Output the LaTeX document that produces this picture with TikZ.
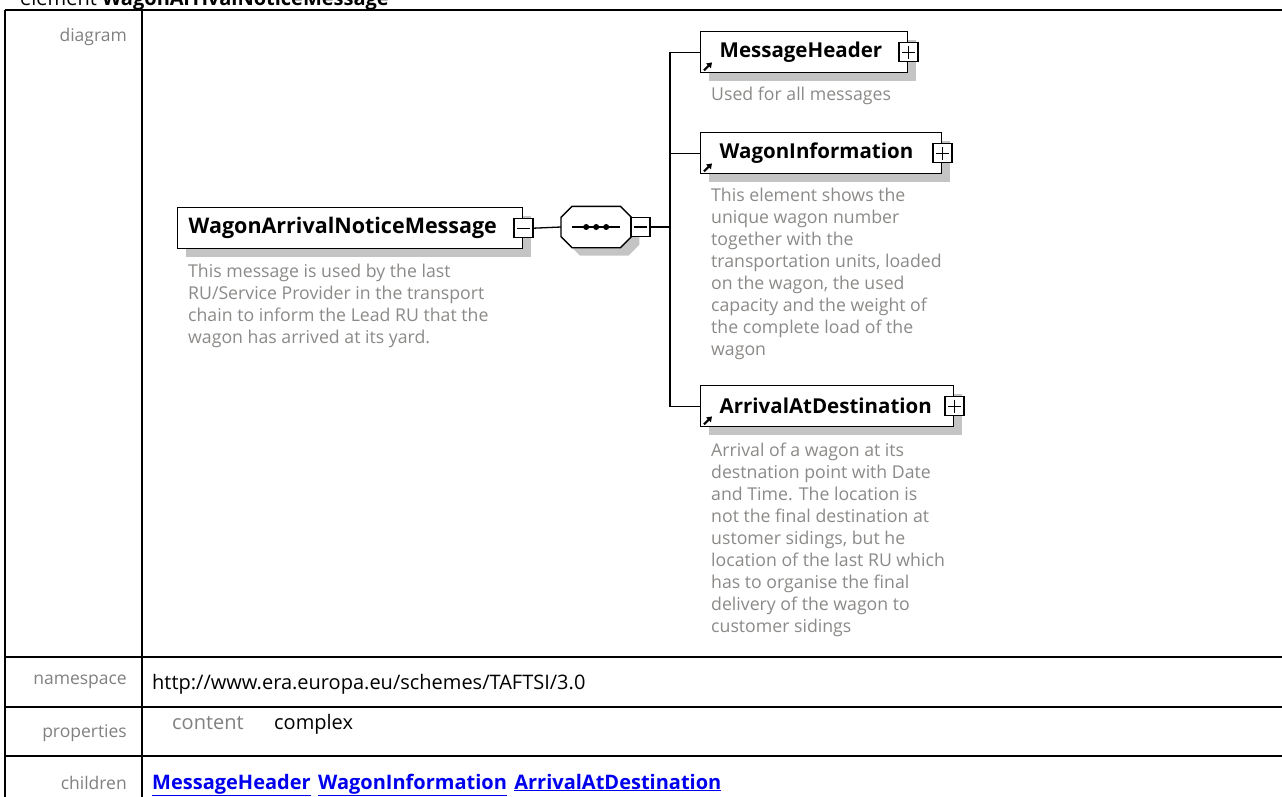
\documentclass[tikz,border=0pt]{standalone}
\usepackage{fontspec}
\setmainfont{Open Sans}
\usetikzlibrary{arrows.meta}
\definecolor{lblgray}{RGB}{128,128,128}
\definecolor{descgray}{RGB}{140,138,136}
\definecolor{shadowgray}{RGB}{196,196,196}
\definecolor{linkblue}{RGB}{0,0,238}
\begin{document}
\begin{tikzpicture}[x=1pt,y=-1pt,
  tline/.style={line width=2pt,black},
  lbl/.style={anchor=east,inner sep=0pt,text=lblgray,font=\fontsize{17.5}{20}\selectfont},
  val/.style={anchor=base west,inner sep=0pt,text=black,font=\fontsize{20}{24}\selectfont},
  lnk/.style={anchor=base west,inner sep=0pt,text=linkblue,font=\fontsize{20}{24}\selectfont\bfseries},
  elem/.style={draw=black,line width=1.4pt,fill=white,anchor=north west,minimum height=41pt,
    inner ysep=0pt,align=left,font=\fontsize{20.5}{24}\selectfont\bfseries,
    preaction={fill=shadowgray,transform canvas={xshift=8pt,yshift=-8pt}}},
  desc/.style={anchor=north west,inner sep=0pt,align=left,text=descgray,font=\fontsize{17.7}{22}\selectfont},
  minusbox/.style={draw,line width=1.2pt,fill=white,minimum size=19pt,inner sep=0pt,
    path picture={\draw[line width=1.2pt] ([xshift=3pt]path picture bounding box.west) -- ([xshift=-3pt]path picture bounding box.east);}},
  plusbox/.style={minusbox,
    path picture={\draw[line width=1.2pt] ([xshift=3pt]path picture bounding box.west) -- ([xshift=-3pt]path picture bounding box.east);
      \draw[line width=1.2pt] ([yshift=-3pt]path picture bounding box.north) -- ([yshift=3pt]path picture bounding box.south);}},
  conn/.style={line width=1.3pt,black},
  linkarrow/.style={line width=2.2pt,-{Triangle[length=5pt,width=6.5pt]}}
]
\useasboundingbox (0,0) rectangle (1282,796);
% title (cut at top)
\node[anchor=base west,inner sep=0pt,font=\fontsize{20}{24}\selectfont] (title) at (20,5) {element \textbf{WagonArrivalNoticeMessage}};
% table
\draw[tline] (5,10) -- (1290,10);
\draw[tline] (5,10) -- (5,800);
\draw[tline] (142,10) -- (142,800);
\draw[tline] (5,657) -- (1290,657);
\draw[tline] (5,707) -- (1290,707);
\draw[tline] (5,756) -- (1290,756);
\node[lbl] (ldiag) at (127,37) {diagram};
\node[lbl] (lns) at (127,682) {namespace};
\node[lbl] (lprop) at (127,733) {properties};
\node[lbl] (lchild) at (127,783) {children};
\node[val] (ns) at (152,689) {http://www.era.europa.eu/schemes/TAFTSI/3.0};
\node[val,text=lblgray] (pc) at (172,729) {content};
\node[val] (pv) at (274,729) {complex};
\node[lnk] (c1) at (152,789) {\underline{MessageHeader}};
\node[lnk] (c2) at ([xshift=7pt]c1.base east) {\underline{WagonInformation}};
\node[lnk] (c3) at ([xshift=7pt]c2.base east) {\underline{ArrivalAtDestination}};
% main element
\node[elem,text width=323pt,inner xsep=11pt,font=\fontsize{21.5}{24}\selectfont\bfseries] (main) at (177,207) {WagonArrivalNoticeMessage};
\node[minusbox] (mminus) at (main.east) {};
\node[desc] (maind) at (188,264) {This message is used by the last\\RU/Service Provider in the transport\\chain to inform the Lead RU that the\\wagon has arrived at its yard.};
% sequence compositor
\node[minimum width=70pt,minimum height=41pt,inner sep=0pt,anchor=west] (seq) at (561,227) {};
\begin{scope}[transform canvas={xshift=8pt,yshift=-8pt}]
\fill[shadowgray] ([xshift=11pt]seq.north west) -- ([xshift=-11pt]seq.north east) -- ([yshift=-11pt]seq.north east) -- ([yshift=11pt]seq.south east) -- ([xshift=-11pt]seq.south east) -- ([xshift=11pt]seq.south west) -- ([yshift=11pt]seq.south west) -- ([yshift=-11pt]seq.north west) -- cycle;
\end{scope}
\draw[line width=1.4pt,fill=white] ([xshift=11pt]seq.north west) -- ([xshift=-11pt]seq.north east) -- ([yshift=-11pt]seq.north east) -- ([yshift=11pt]seq.south east) -- ([xshift=-11pt]seq.south east) -- ([xshift=11pt]seq.south west) -- ([yshift=11pt]seq.south west) -- ([yshift=-11pt]seq.north west) -- cycle;
\draw[line width=1.3pt] ([xshift=11pt]seq.west) -- ([xshift=-11pt]seq.east);
\fill ([xshift=-10pt]seq.center) circle (3pt) (seq.center) circle (3pt) ([xshift=10pt]seq.center) circle (3pt);
\node[minusbox,anchor=west] (sminus) at ([xshift=-1pt]seq.east) {};
\draw[conn] (mminus.east) -- (seq.west);
\coordinate (bus) at (670,227);
\draw[conn] (sminus.east) -- (bus);
% children
\node[elem,text width=169pt,inner xsep=19pt] (mh) at (700,31) {MessageHeader};
\node[plusbox] (mhp) at (mh.east) {};
\draw[linkarrow] ([xshift=4pt,yshift=3pt]mh.south west) -- ++(8,-8);
\node[desc] (mhd) at (711,87) {Used for all messages};
\node[elem,text width=203pt,inner xsep=19pt] (wi) at (700,132) {WagonInformation};
\node[plusbox] (wip) at (wi.east) {};
\draw[linkarrow] ([xshift=4pt,yshift=3pt]wi.south west) -- ++(8,-8);
\node[desc] (wid) at (711,188) {This element shows the\\unique wagon number\\together with the\\transportation units, loaded\\on the wagon, the used\\capacity and the weight of\\the complete load of the\\wagon};
\node[elem,text width=215pt,inner xsep=19pt] (ad) at (700,385) {ArrivalAtDestination};
\node[plusbox] (adp) at (ad.east) {};
\draw[linkarrow] ([xshift=4pt,yshift=3pt]ad.south west) -- ++(8,-8);
\node[desc] (add) at (711,443) {Arrival of a wagon at its\\destnation point with Date\\and Time. The location is\\not the final destination at\\ustomer sidings, but he\\location of the last RU which\\has to organise the final\\delivery of the wagon to\\customer sidings};
% bus connectors
\draw[conn] (bus) |- (mh.west);
\draw[conn] (bus) |- (wi.west);
\draw[conn] (bus) |- (ad.west);
\end{tikzpicture}
\end{document}
